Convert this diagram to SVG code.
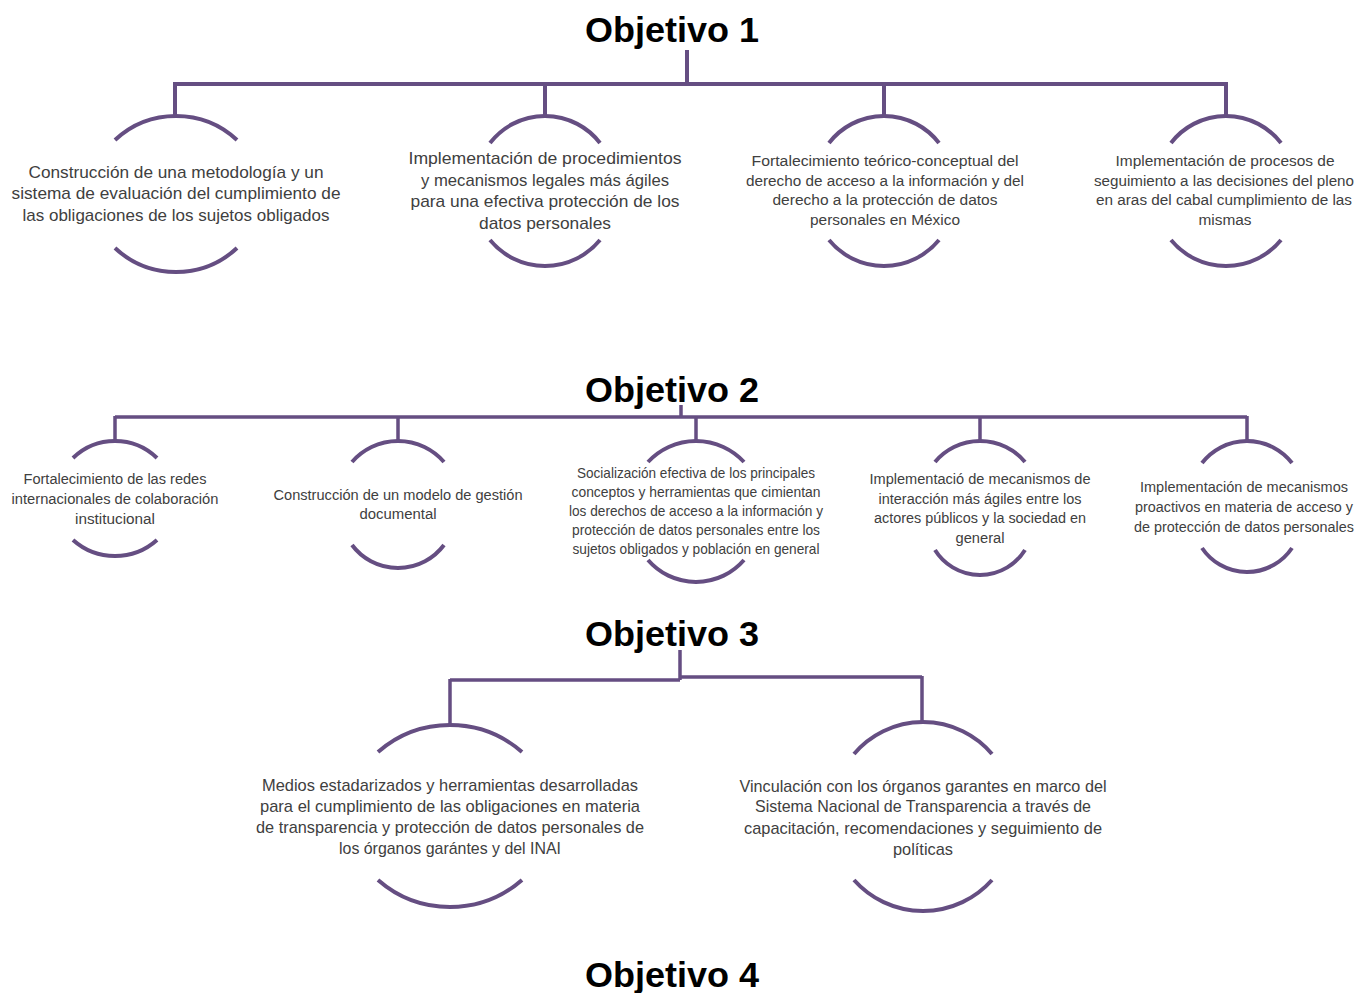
<svg xmlns="http://www.w3.org/2000/svg" width="1359" height="993" viewBox="0 0 1359 993">
<style>
.title{font-family:"Liberation Sans",Arial,sans-serif;font-weight:bold;font-size:35px;fill:#000;text-anchor:middle}
.t{font-family:"Liberation Sans",Arial,sans-serif;fill:#404040;text-anchor:middle}
.f17{font-size:17px}
.f15{font-size:15.5px}
.f14{font-size:14.5px}
.f13{font-size:14px}
.ln{fill:none;stroke:#654e82;stroke-width:4;stroke-linecap:butt}
.arc{fill:none;stroke:#654e82;stroke-width:4}
</style>
<rect width="1359" height="993" fill="#fff"/>

<g id="titles">
<text class="title" x="672" y="42" textLength="174" lengthAdjust="spacingAndGlyphs">Objetivo 1</text>
<text class="title" x="672" y="402" textLength="174" lengthAdjust="spacingAndGlyphs">Objetivo 2</text>
<text class="title" x="672" y="646" textLength="174" lengthAdjust="spacingAndGlyphs">Objetivo 3</text>
<text class="title" x="672" y="987" textLength="174" lengthAdjust="spacingAndGlyphs">Objetivo 4</text>
</g>

<g id="connectors">
<path class="ln" d="M687 50V84M175 84H1226M175 82V116M545 84V116M884 84V116M1226 82V116"/>
<path class="ln" style="stroke-width:3.5" d="M681 405V417M115 417H1247M115 416V441M398 417V441M696 417V441M980 417V441M1247 416V441"/>
<path class="ln" style="stroke-width:3.5" d="M680 650V680M450 680H680M680 677H922M450 679V725M922 676V722"/>
</g>

<g id="o1n1">
<path class="arc" d="M115 140A89.5 89.5 0 0 1 237 140M115 248A89.5 89.5 0 0 0 237 248"/>
<text class="t f17" x="176" y="178" textLength="295" lengthAdjust="spacingAndGlyphs">Construcción de una metodología y un</text>
<text class="t f17" x="176" y="199" textLength="329" lengthAdjust="spacingAndGlyphs">sistema de evaluación del cumplimiento de</text>
<text class="t f17" x="176" y="221" textLength="307" lengthAdjust="spacingAndGlyphs">las obligaciones de los sujetos obligados</text>
</g>
<g id="o1n2">
<path class="arc" d="M490 143A69.5 69.5 0 0 1 600 143M490 240A71.2 71.2 0 0 0 600 240"/>
<text class="t f17" x="545" y="164" textLength="273" lengthAdjust="spacingAndGlyphs">Implementación de procedimientos</text>
<text class="t f17" x="545" y="186" textLength="248" lengthAdjust="spacingAndGlyphs">y mecanismos legales más ágiles</text>
<text class="t f17" x="545" y="207" textLength="269" lengthAdjust="spacingAndGlyphs">para una efectiva protección de los</text>
<text class="t f17" x="545" y="229" textLength="132" lengthAdjust="spacingAndGlyphs">datos personales</text>
</g>
<g id="o1n3">
<path class="arc" d="M829 143A69.5 69.5 0 0 1 939 143M829 240A71.2 71.2 0 0 0 939 240"/>
<text class="t f15" x="885" y="166" textLength="267" lengthAdjust="spacingAndGlyphs">Fortalecimiento teórico-conceptual del</text>
<text class="t f15" x="885" y="186" textLength="278" lengthAdjust="spacingAndGlyphs">derecho de acceso a la información y del</text>
<text class="t f15" x="885" y="205" textLength="225" lengthAdjust="spacingAndGlyphs">derecho a la protección de datos</text>
<text class="t f15" x="885" y="225" textLength="150" lengthAdjust="spacingAndGlyphs">personales en México</text>
</g>
<g id="o1n4">
<path class="arc" d="M1171 143A69.5 69.5 0 0 1 1281 143M1171 240A71.2 71.2 0 0 0 1281 240"/>
<text class="t f15" x="1225" y="166" textLength="219" lengthAdjust="spacingAndGlyphs">Implementación de procesos de</text>
<text class="t f15" x="1224" y="186" textLength="260" lengthAdjust="spacingAndGlyphs">seguimiento a las decisiones del pleno</text>
<text class="t f15" x="1224" y="205" textLength="256" lengthAdjust="spacingAndGlyphs">en aras del cabal cumplimiento de las</text>
<text class="t f15" x="1225" y="225" textLength="53" lengthAdjust="spacingAndGlyphs">mismas</text>
</g>

<g id="o2n1">
<path class="arc" d="M73 458A60.4 60.4 0 0 1 157 458M73 540A63.1 63.1 0 0 0 157 540"/>
<text class="t f15" x="115" y="484" textLength="183" lengthAdjust="spacingAndGlyphs">Fortalecimiento de las redes</text>
<text class="t f15" x="115" y="504" textLength="207" lengthAdjust="spacingAndGlyphs">internacionales de colaboración</text>
<text class="t f15" x="115" y="524" textLength="80" lengthAdjust="spacingAndGlyphs">institucional</text>
</g>
<g id="o2n2">
<path class="arc" d="M352 462A60.9 60.9 0 0 1 444 462M352 545A57.5 57.5 0 0 0 444 545"/>
<text class="t f15" x="398" y="500" textLength="249" lengthAdjust="spacingAndGlyphs">Construcción de un modelo de gestión</text>
<text class="t f15" x="398" y="519" textLength="77" lengthAdjust="spacingAndGlyphs">documental</text>
</g>
<g id="o2n3">
<path class="arc" d="M648 462A65.4 65.4 0 0 1 744 462M648 560A63.4 63.4 0 0 0 744 560"/>
<text class="t f14" x="696" y="478" textLength="238" lengthAdjust="spacingAndGlyphs">Socialización efectiva de los principales</text>
<text class="t f14" x="696" y="497" textLength="249" lengthAdjust="spacingAndGlyphs">conceptos y herramientas que cimientan</text>
<text class="t f14" x="696" y="516" textLength="254" lengthAdjust="spacingAndGlyphs">los derechos de acceso a la información y</text>
<text class="t f14" x="696" y="535" textLength="248" lengthAdjust="spacingAndGlyphs">protección de datos personales entre los</text>
<text class="t f14" x="696" y="554" textLength="247" lengthAdjust="spacingAndGlyphs">sujetos obligados y población en general</text>
</g>
<g id="o2n4">
<path class="arc" d="M935 462A58.7 58.7 0 0 1 1025 462M935 550A53 53 0 0 0 1025 550"/>
<text class="t f15" x="980" y="484" textLength="221" lengthAdjust="spacingAndGlyphs">Implementació de mecanismos de</text>
<text class="t f15" x="980" y="504" textLength="203" lengthAdjust="spacingAndGlyphs">interacción más ágiles entre los</text>
<text class="t f15" x="980" y="523" textLength="212" lengthAdjust="spacingAndGlyphs">actores públicos y la sociedad en</text>
<text class="t f15" x="980" y="543" textLength="49" lengthAdjust="spacingAndGlyphs">general</text>
</g>
<g id="o2n5">
<path class="arc" d="M1202 463A57 57 0 0 1 1292 463M1202 548A54.2 54.2 0 0 0 1292 548"/>
<text class="t f13" x="1244" y="492" textLength="208" lengthAdjust="spacingAndGlyphs">Implementación de mecanismos</text>
<text class="t f13" x="1244" y="512" textLength="218" lengthAdjust="spacingAndGlyphs">proactivos en materia de acceso y</text>
<text class="t f13" x="1244" y="532" textLength="220" lengthAdjust="spacingAndGlyphs">de protección de datos personales</text>
</g>

<g id="o3n1">
<path class="arc" d="M378 752A109.5 109.5 0 0 1 522 752M378 880A109.5 109.5 0 0 0 522 880"/>
<text class="t f17" x="450" y="791" textLength="376" lengthAdjust="spacingAndGlyphs">Medios estadarizados y herramientas desarrolladas</text>
<text class="t f17" x="450" y="812" textLength="380" lengthAdjust="spacingAndGlyphs">para el cumplimiento de las obligaciones en materia</text>
<text class="t f17" x="450" y="833" textLength="388" lengthAdjust="spacingAndGlyphs">de transparencia y protección de datos personales de</text>
<text class="t f17" x="450" y="854" textLength="222" lengthAdjust="spacingAndGlyphs">los órganos garántes y del INAI</text>
</g>
<g id="o3n2">
<path class="arc" d="M854 754A90.4 90.4 0 0 1 992 754M854 880A92.3 92.3 0 0 0 992 880"/>
<text class="t f17" x="923" y="792" textLength="367" lengthAdjust="spacingAndGlyphs">Vinculación con los órganos garantes en marco del</text>
<text class="t f17" x="923" y="812" textLength="336" lengthAdjust="spacingAndGlyphs">Sistema Nacional de Transparencia a través de</text>
<text class="t f17" x="923" y="834" textLength="358" lengthAdjust="spacingAndGlyphs">capacitación, recomendaciones y seguimiento de</text>
<text class="t f17" x="923" y="855" textLength="60" lengthAdjust="spacingAndGlyphs">políticas</text>
</g>
</svg>
